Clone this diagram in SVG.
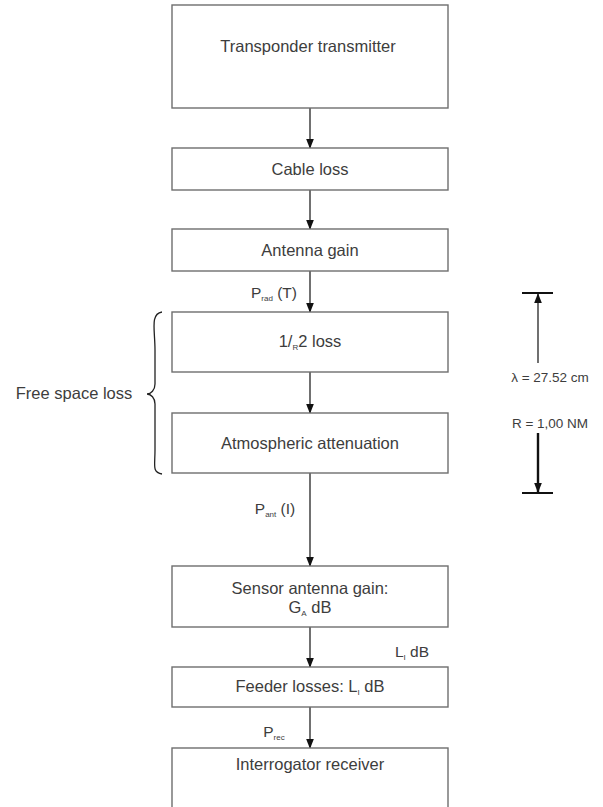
<svg xmlns="http://www.w3.org/2000/svg" width="603" height="807" viewBox="0 0 603 807">
<defs>
<marker id="ah" markerWidth="10" markerHeight="10" refX="9" refY="5" orient="auto" markerUnits="userSpaceOnUse">
<path d="M0,1.2 L10,5 L0,8.8 Z" fill="#111"/>
</marker>
<style>
.box{fill:#fff;stroke:#6e6e6e;stroke-width:1.4}
.t{font-family:"Liberation Sans",Arial,sans-serif;font-size:16.5px;fill:#3d3d3d;text-anchor:middle}
.l{font-size:15.5px}
.d{font-size:13.5px}
.s{font-size:8px}
.c{stroke:#111;stroke-width:1.2;fill:none}
</style>
</defs>
<rect width="603" height="807" fill="#fff"/>
<g id="connectors">
<line class="c" x1="310" y1="108" x2="310" y2="148" marker-end="url(#ah)"/>
<line class="c" x1="310" y1="190" x2="310" y2="229" marker-end="url(#ah)"/>
<line class="c" x1="310" y1="271" x2="310" y2="312" marker-end="url(#ah)"/>
<line class="c" x1="310" y1="372" x2="310" y2="413" marker-end="url(#ah)"/>
<line class="c" x1="310" y1="473" x2="310" y2="566" marker-end="url(#ah)"/>
<line class="c" x1="310" y1="627" x2="310" y2="667" marker-end="url(#ah)"/>
<line class="c" x1="310" y1="707" x2="310" y2="748" marker-end="url(#ah)"/>
</g>
<g id="n1"><rect class="box" x="172" y="5" width="276" height="103"/><text class="t" x="308" y="52">Transponder transmitter</text></g>
<g id="n2"><rect class="box" x="172" y="148" width="276" height="42"/><text class="t" x="310" y="175">Cable loss</text></g>
<g id="n3"><rect class="box" x="172" y="229" width="276" height="42"/><text class="t" x="310" y="256">Antenna gain</text></g>
<g id="n4"><rect class="box" x="172" y="312" width="276" height="60"/><text class="t" x="310" y="347">1/<tspan class="s" dy="3">R</tspan><tspan dy="-3">2 loss</tspan></text></g>
<g id="n5"><rect class="box" x="172" y="413" width="276" height="60"/><text class="t" x="310" y="449">Atmospheric attenuation</text></g>
<g id="n6"><rect class="box" x="172" y="566" width="276" height="61"/><text class="t" x="310" y="594">Sensor antenna gain:</text><text class="t" x="310" y="613">G<tspan class="s" dy="3">A</tspan><tspan dy="-3"> dB</tspan></text></g>
<g id="n7"><rect class="box" x="172" y="667" width="276" height="40"/><text class="t" x="310" y="692">Feeder losses: L<tspan class="s" dy="3">I</tspan><tspan dy="-3"> dB</tspan></text></g>
<g id="n8"><rect class="box" x="172" y="748" width="276" height="70"/><text class="t" x="310" y="770">Interrogator receiver</text></g>
<g id="labels">
<text class="t l" x="274" y="298">P<tspan class="s" dy="3">rad</tspan><tspan dy="-3"> (T)</tspan></text>
<text class="t l" x="275" y="514">P<tspan class="s" dy="3">ant</tspan><tspan dy="-3"> (I)</tspan></text>
<text class="t l" x="412" y="657">L<tspan class="s" dy="3">I</tspan><tspan dy="-3"> dB</tspan></text>
<text class="t l" x="274" y="737">P<tspan class="s" dy="3">rec</tspan></text>
<text class="t" x="74" y="399">Free space loss</text>
<path d="M162,312 C150,314 155,330 155,350 L155,384 C155,390 151,394 147,394 C151,394 155,398 155,404 L155,450 C155,466 152,472 162,474" fill="none" stroke="#222" stroke-width="1.3"/>
</g>
<g id="dimension">
<line x1="522" y1="293" x2="553" y2="293" stroke="#111" stroke-width="2"/>
<line x1="538" y1="363" x2="538" y2="294" stroke="#111" stroke-width="1.2" marker-end="url(#ah)"/>
<text class="t d" x="550" y="382">λ = 27.52 cm</text>
<text class="t d" x="550" y="428">R = 1,00 NM</text>
<line x1="538" y1="433" x2="538" y2="492" stroke="#111" stroke-width="2.4" marker-end="url(#ah)"/>
<line x1="522" y1="493" x2="553" y2="493" stroke="#111" stroke-width="2"/>
</g>
</svg>
